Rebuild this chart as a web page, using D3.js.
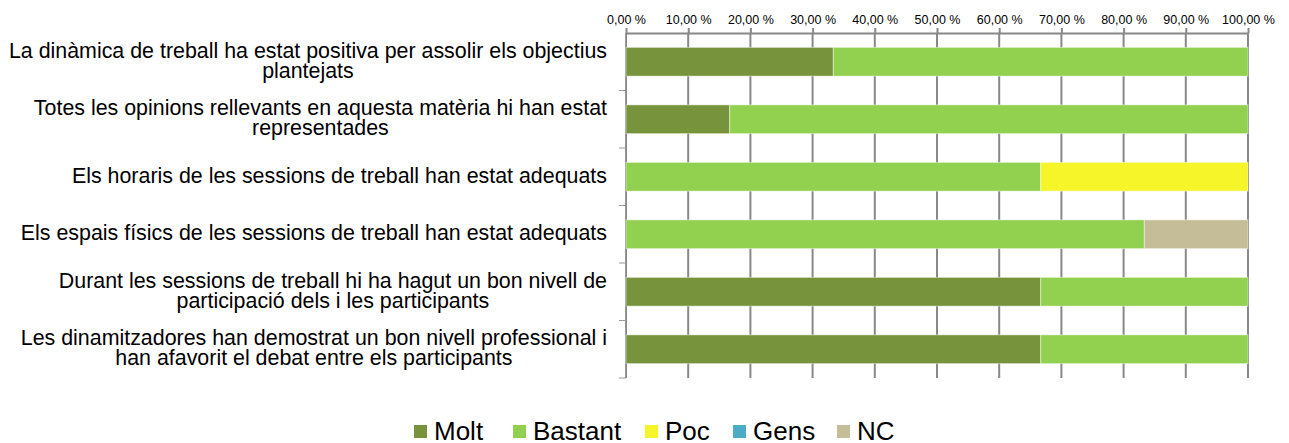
<!DOCTYPE html>
<html>
<head>
<meta charset="utf-8">
<script src="https://cdn.jsdelivr.net/npm/d3@7"></script>
<style>
  body { margin: 0; background: #fff; }
  svg { display: block; font-family: Arial, "Liberation Sans", sans-serif; }
</style>
</head>
<body>
<div id="chart"></div>
<script>
// categories, each as wrapped lines
const categories = [
  ["La dinàmica de treball ha estat positiva per assolir els objectius", "plantejats"],
  ["Totes les opinions rellevants en aquesta matèria hi han estat", "representades"],
  ["Els horaris de les sessions de treball han estat adequats"],
  ["Els espais físics de les sessions de treball han estat adequats"],
  ["Durant les sessions de treball hi ha hagut un bon nivell de", "participació dels i les participants"],
  ["Les dinamitzadores han demostrat un bon nivell professional i", "han afavorit el debat entre els participants"]
];
const seriesNames = ["Molt", "Bastant", "Poc", "Gens", "NC"];
const seriesColors = ["#77933C", "#92D050", "#F5F52A", "#4BACC6", "#C4BD97"];

// percentages per category
const molt    = [33.33, 16.67, 0,     0,     66.67, 66.67];
const bastant = [66.67, 83.33, 66.67, 83.33, 33.33, 33.33];
const poc     = [0,     0,     33.33, 0,     0,     0];
const gens    = [0,     0,     0,     0,     0,     0];
const nc      = [0,     0,     0,     16.67, 0,     0];

const tickValues = [0, 10, 20, 30, 40, 50, 60, 70, 80, 90, 100];

const W = 1289, H = 443;
const LABEL_FONT = 21.4, TICK_FONT = 12.5, LEGEND_FONT = 26;

const rows = categories.map((c, i) => ({
  key: i, Molt: molt[i], Bastant: bastant[i], Poc: poc[i], Gens: gens[i], NC: nc[i]
}));
const stacked = d3.stack().keys(seriesNames)(rows);

const svg = d3.select("#chart").append("svg")
  .attr("width", W)
  .attr("height", H);

const x = d3.scaleLinear().domain([0, 100]).range([626, 1248]);
const y = d3.scaleBand().domain(d3.range(categories.length)).range([33, 378]).paddingInner(0.5).paddingOuter(0.25);
const yEdge = d3.scaleLinear().domain([0, categories.length]).range([33, 378]);

// vertical gridlines
svg.append("g")
  .selectAll("line")
  .data(tickValues)
  .join("line")
  .attr("x1", d => x(d)).attr("x2", d => x(d))
  .attr("y1", 33).attr("y2", 378)
  .style("stroke", "#888")
  .style("stroke-width", 2);

// top axis
const xAxis = svg.append("g")
  .attr("transform", "translate(0,33)")
  .call(d3.axisTop(x).tickValues(tickValues).tickSize(5).tickSizeOuter(0)
    .tickFormat(d => d3.format(".2f")(d).replace(".", ",") + " %"));
xAxis.select(".domain").style("stroke", "#888").style("stroke-width", 2);
xAxis.selectAll(".tick line").style("stroke", "#888").style("stroke-width", 2);
xAxis.selectAll(".tick text")
  .attr("y", -9)
  .style("font-size", TICK_FONT + "px")
  .style("font-family", "Arial, 'Liberation Sans', sans-serif")
  .style("fill", "#000");

// left axis line and ticks at category boundaries
svg.append("line")
  .attr("x1", 625.5).attr("x2", 625.5)
  .attr("y1", 33).attr("y2", 378)
  .style("stroke", "#999").style("stroke-width", 1);
svg.append("g")
  .selectAll("line")
  .data(d3.range(1, categories.length + 1))
  .join("line")
  .attr("x1", 619).attr("x2", 626)
  .attr("y1", d => yEdge(d)).attr("y2", d => yEdge(d))
  .style("stroke", "#999").style("stroke-width", 1);

// bars
svg.append("g")
  .selectAll("g")
  .data(stacked)
  .join("g")
  .attr("fill", (d, i) => seriesColors[i])
  .selectAll("rect")
  .data(d => d)
  .join("rect")
  .attr("x", d => x(d[0]))
  .attr("y", d => y(d.data.key))
  .attr("width", d => x(d[1]) - x(d[0]))
  .attr("height", y.bandwidth())
  .style("stroke", d => (d[1] - d[0]) > 0 ? "rgba(255,255,255,0.45)" : "none")
  .style("stroke-width", 1);

// category labels, block right aligned, lines centred in the block
const lineH = 20;
const labels = svg.append("g")
  .selectAll("text")
  .data(categories)
  .join("text")
  .style("font-size", LABEL_FONT + "px")
  .attr("text-anchor", "middle")
  .attr("fill", "#000");
labels.each(function(lines, i) {
  const t = d3.select(this);
  const cy = y(i) + y.bandwidth() / 2 - 1.5;
  const top = cy - (lines.length - 1) * lineH / 2;
  lines.forEach((ln, j) => {
    t.append("tspan").attr("y", top + j * lineH).attr("dy", "0.35em").text(ln);
  });
  let maxW = 0;
  t.selectAll("tspan").each(function() { maxW = Math.max(maxW, this.getComputedTextLength()); });
  t.selectAll("tspan").attr("x", 607 - maxW / 2);
});

// legend
const legendX = [414, 513, 645, 733, 837];
const legend = svg.append("g")
  .selectAll("g")
  .data(seriesNames)
  .join("g")
  .attr("transform", (d, i) => `translate(${legendX[i]},425)`);
legend.append("rect")
  .attr("width", 13).attr("height", 13)
  .attr("fill", (d, i) => seriesColors[i]);
legend.append("text")
  .attr("x", 20).attr("y", 15)
  .style("font-size", LEGEND_FONT + "px")
  .attr("fill", "#000")
  .text(d => d);
</script>
</body>
</html>
